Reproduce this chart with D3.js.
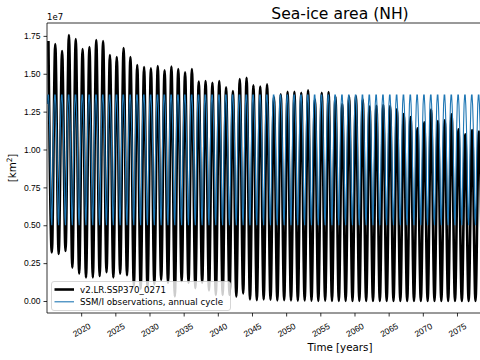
<!DOCTYPE html>
<html><head><meta charset="utf-8">
<script src="https://cdn.jsdelivr.net/npm/d3@7"></script>
<style>body{margin:0;background:#fff} svg{display:block;font-family:"DejaVu Sans",sans-serif}</style>
</head><body><svg id="c" width="480" height="360"></svg>
<script>
// ---- data (units: km^2) ----
const years = d3.range(2015, 2079);
// annual maximum (March) of model sea-ice area, in 1e7 km^2
const modelMax = [1.716,1.696,1.650,1.756,1.729,1.663,1.677,1.723,1.716,1.624,
  1.611,1.670,1.611,1.558,1.545,1.536,1.551,1.523,1.547,1.531,
  1.510,1.531,1.448,1.452,1.441,1.452,1.411,1.386,1.465,1.474,
  1.424,1.415,1.430,1.345,1.364,1.381,1.381,1.375,1.391,1.330,
  1.375,1.380,1.350,1.300,1.349,1.353,1.330,1.283,1.289,1.294,
  1.287,1.265,1.234,1.214,1.140,1.180,1.263,1.188,1.193,1.232,
  1.133,1.100,1.129,1.118];
// annual minimum (September) of model sea-ice area, in 1e7 km^2
const modelMin = [0.320,0.310,0.330,0.220,0.180,0.155,0.156,0.165,0.190,0.155,
  0.180,0.170,0.100,0.080,0.090,0.110,0.140,0.120,0.030,0.130,
  0.120,0.085,0.120,0.070,0.040,0.040,0.040,0.030,0.050,0.010,
  0.005,0.010,0.008,0.004,0.006,0.003,0.002,0.004,0.002,0.001,
  0.002,0.001,0.001,0.001,0.000,0.001,0.000,0.000,0.000,0.000,
  0.000,0.000,0.000,0.000,0.000,0.000,0.000,0.000,0.000,0.000,
  0.000,0.000,0.000,0.000];
// SSM/I observed monthly climatology (Jan..Dec), in 1e7 km^2
const obsMonths = ["Jan","Feb","Mar","Apr","May","Jun","Jul","Aug","Sep","Oct","Nov","Dec"];
const obsCycle = [1.30,1.36,1.36,1.29,1.17,1.00,0.75,0.55,0.50,0.65,0.93,1.15];
const xTickYears = [2020, 2025, 2030, 2035, 2040, 2045, 2050, 2055, 2060, 2065, 2070, 2075];
const yTickVals = [0, 0.25, 0.5, 0.75, 1.0, 1.25, 1.5, 1.75];
const seriesNames = ["v2.LR.SSP370_0271", "SSM/I observations, annual cycle"];
const seriesColors = ["#000000", "#1f77b4"];

// ---- layout ----
const svg = d3.select("#c");
const L = 47, T = 23, B = 313, Rfull = 633;
const x = d3.scaleLinear().domain([2015, 2100.76]).range([L, Rfull]);
const y = d3.scaleLinear().domain([-0.0792, 1.835]).range([B, T]);

svg.append("clipPath").attr("id","clip").append("rect")
  .attr("x", L).attr("y", T).attr("width", Rfull - L).attr("height", B - T);

const plot = svg.append("g").attr("clip-path","url(#clip)");

// model series
const modelPts = [];
years.forEach((yr, i) => {
  modelPts.push({t: yr + 2.5/12, v: modelMax[i]});
  modelPts.push({t: yr + 8.5/12, v: modelMin[i]});
});
const line = d3.line().x(d => x(d.t)).y(d => y(d.v)).curve(d3.curveMonotoneX);
plot.append("path").datum(modelPts).attr("d", line)
  .attr("fill","none").attr("stroke", seriesColors[0]).attr("stroke-width", 2.6)
  .attr("stroke-linejoin","round");

// obs annual cycle repeated
const obsPts = [];
years.concat([2079]).forEach(yr => {
  obsCycle.forEach((v, m) => obsPts.push({t: yr + (m + 0.5)/12, v}));
});
plot.append("path").datum(obsPts).attr("d", d3.line().x(d => x(d.t)).y(d => y(d.v)))
  .attr("fill","none").attr("stroke", seriesColors[1]).attr("stroke-width", 1.1);

// axes
const xAxis = d3.axisBottom(x).tickValues(xTickYears).tickFormat(d3.format("d")).tickSize(3.5).tickPadding(3);
const gx = svg.append("g").attr("transform", `translate(0,${B})`).call(xAxis);
gx.select(".domain").remove();
gx.selectAll("text").attr("font-size", 8.5).attr("fill","#000")
  .attr("text-anchor","middle").attr("dy", null).attr("y", null)
  .attr("dominant-baseline","central")
  .attr("transform", "translate(0,17) rotate(-30)");
gx.selectAll("line").attr("stroke","#000").attr("stroke-width",0.8);

const yAxis = d3.axisLeft(y).tickValues(yTickVals).tickFormat(d3.format(".2f")).tickSize(3.5).tickPadding(3);
const gy = svg.append("g").attr("transform", `translate(${L},0)`).call(yAxis);
gy.select(".domain").remove();
gy.selectAll("text").attr("font-size", 8.5).attr("fill","#000");
gy.selectAll("line").attr("stroke","#000").attr("stroke-width",0.8);

// spines
svg.append("line").attr("x1",L).attr("x2",L).attr("y1",T).attr("y2",B).attr("stroke","#000").attr("stroke-width",0.8);
svg.append("line").attr("x1",L).attr("x2",Rfull).attr("y1",B).attr("y2",B).attr("stroke","#000").attr("stroke-width",0.8);
svg.append("line").attr("x1",L).attr("x2",Rfull).attr("y1",T).attr("y2",T).attr("stroke","#000").attr("stroke-width",0.8);

// offset text
svg.append("text").attr("x", L).attr("y", 20).attr("font-size", 8.5).text("1e7");

// title & labels
svg.append("text").attr("x", (L + Rfull)/2).attr("y", 19).attr("text-anchor","middle")
  .attr("font-size", 15.6).text("Sea-ice area (NH)");
svg.append("text").attr("x", (L + Rfull)/2).attr("y", 351).attr("text-anchor","middle")
  .attr("font-size", 10.3).text("Time [years]");
const yl = svg.append("text").attr("transform", `translate(16,${(T+B)/2}) rotate(-90)`)
  .attr("text-anchor","middle").attr("font-size", 10.3);
yl.append("tspan").text("[km");
yl.append("tspan").attr("dy", -4).attr("font-size", 7.3).text("2");
yl.append("tspan").attr("dy", 4).text("]");

// legend
const lg = svg.append("g");
lg.append("rect").attr("x", 51.5).attr("y", 281.5).attr("width", 179).attr("height", 29).attr("rx", 2.5)
  .attr("fill","#fff").attr("fill-opacity",0.8).attr("stroke","#cccccc").attr("stroke-width",0.8);
const lw = [2.6, 1.1];
seriesNames.forEach((nm, i) => {
  const yy = 289.5 + i * 12.3;
  lg.append("line").attr("x1", 54.5).attr("x2", 74).attr("y1", yy).attr("y2", yy)
    .attr("stroke", seriesColors[i]).attr("stroke-width", lw[i]);
  lg.append("text").attr("x", 80).attr("y", yy + 3).attr("font-size", 8.7).text(nm);
});
</script></body></html>
